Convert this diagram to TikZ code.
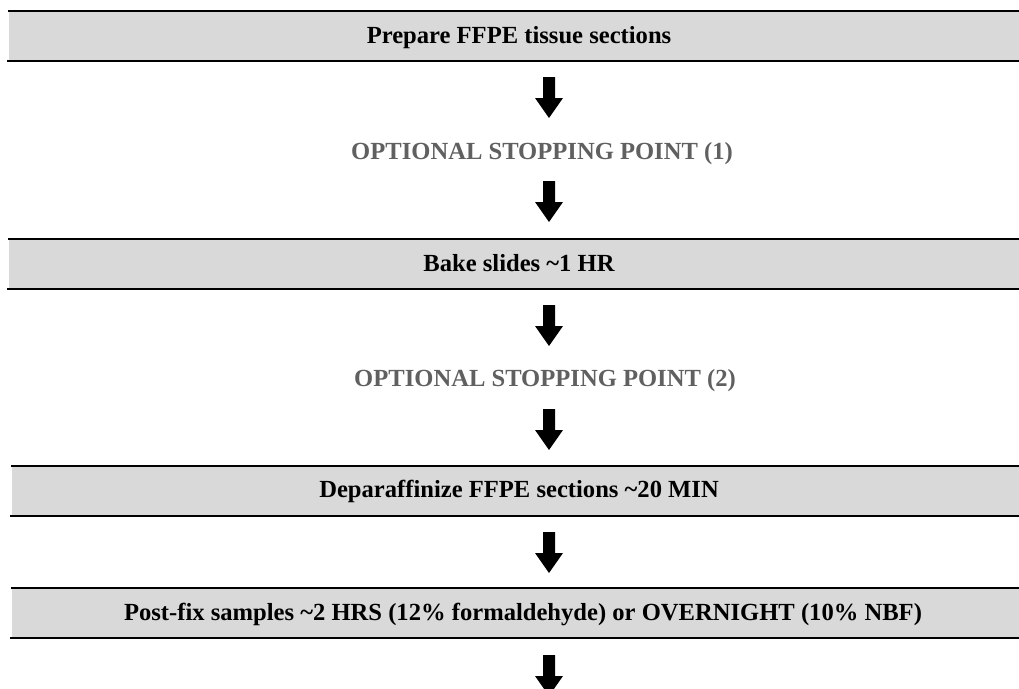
\documentclass[tikz,border=0pt]{standalone}
\usepackage{fontspec}
\setmainfont{Liberation Serif}
\definecolor{boxgray}{RGB}{217,217,217}
\definecolor{optgray}{RGB}{96,96,96}
\tikzset{
  boxfill/.style={fill=boxgray, draw=none, inner sep=0pt, anchor=north west, minimum height=50pt, minimum width=1030pt},
  rule/.style={line width=2pt, black},
  steptext/.style={font=\fontsize{24.6}{28}\selectfont\bfseries, anchor=base, inner sep=0pt, text=black},
  opttext/.style={steptext, text=optgray},
  blockarrow/.style={fill=black}
}
\newcommand\blockarr[1]{\fill[blockarrow] (#1) ++(-6,0) -- ++(12,0) -- ++(0,21) -- ++(8,0) -- ++(-14,20) -- ++(-14,-20) -- ++(8,0) -- cycle;}
\begin{document}
\begin{tikzpicture}[x=1pt,y=-1pt]
\useasboundingbox (0,0) rectangle (1019,688);
\clip (0,0) rectangle (1019,688);
\fill[white] (0,0) rectangle (1019,688);
% boxes
\node[boxfill] (b1) at (9,11) {};
\node[boxfill] (b2) at (9,239) {};
\node[boxfill] (b3) at (12,466) {};
\node[boxfill] (b4) at (12,588) {};
\foreach \b in {b1,b2,b3,b4}{
  \draw[rule] ([xshift=-1pt]\b.north west) -- (\b.north east);
  \draw[rule] ([xshift=-2pt]\b.south west) -- (\b.south east);
}
% texts
\node[steptext] (t1) at (519,43) {Prepare FFPE tissue sections};
\node[opttext] (o1) at (542,159) {OPTIONAL STOPPING POINT (1)};
\node[steptext] (t2) at (519,271) {Bake slides \textasciitilde1 HR};
\node[opttext] (o2) at (545,386) {OPTIONAL STOPPING POINT (2)};
\node[steptext] (t3) at (519,497) {Deparaffinize FFPE sections \textasciitilde20 MIN};
\node[steptext] (t4) at (523,620) {Post-fix samples \textasciitilde2 HRS (12\% formaldehyde) or OVERNIGHT (10\% NBF)};
% arrows
\coordinate (a1) at (549,77);
\coordinate (a2) at (549,181);
\coordinate (a3) at (549,305);
\coordinate (a4) at (549,409);
\coordinate (a5) at (549,532);
\coordinate (a6) at (549,655);
\foreach \a in {a1,a2,a3,a4,a5,a6}{\blockarr{\a}}
\end{tikzpicture}
\end{document}
